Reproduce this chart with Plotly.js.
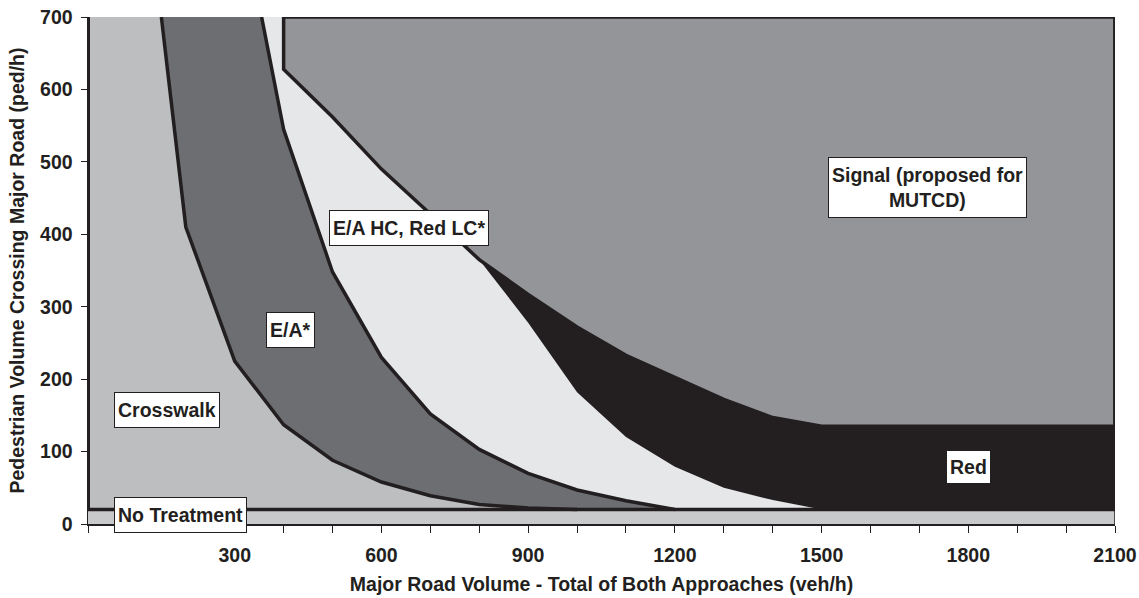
<!DOCTYPE html>
<html><head><meta charset="utf-8">
<script src="https://cdn.plot.ly/plotly-3.0.1.min.js"></script>
<style>html,body{margin:0;padding:0;background:#fff}#chart{width:1139px;height:598px}</style>
</head><body><div id="chart"></div>
<script>
// Axis extents and thresholds (veh/h on x, ped/h on y)
const xMin = 0, xMax = 2100, yMin = 0, yMax = 700;
const noTreatmentLimit = 20;

// Boundary: Crosswalk | E/A*
const crosswalkEdgeX = [150, 200, 300, 400, 500, 600, 700, 800, 900, 1000];
const crosswalkEdgeY = [700, 410, 225, 137, 88, 58, 39, 27, 22, 20];
// Boundary: E/A* | E/A HC, Red LC*
const eaEdgeX = [355, 400, 500, 600, 700, 800, 900, 1000, 1100, 1200];
const eaEdgeY = [700, 545, 348, 230, 152, 103, 70, 47, 32, 20];
// Boundary: E/A HC, Red LC* | Red
const redEdgeX = [800, 900, 1000, 1100, 1200, 1300, 1400, 1500];
const redEdgeY = [365, 278, 182, 120, 79, 50, 33, 20];
// Boundary of Signal (proposed for MUTCD)
const signalEdgeX = [400, 400, 500, 600, 700, 800, 900, 1000, 1100, 1200, 1300, 1400, 1500, 2100];
const signalEdgeY = [700, 628, 562, 490, 428, 365, 317, 272, 233, 202, 172, 147, 135, 135];

const regionNames = ['No Treatment', 'Crosswalk', 'E/A*', 'E/A HC, Red LC*', 'Red', 'Signal (proposed for<br>MUTCD)'];
const xTickVals = [300, 600, 900, 1200, 1500, 1800, 2100];
const xTickText = ['300', '600', '900', '1200', '1500', '1800', '2100'];
const yTickVals = [0, 100, 200, 300, 400, 500, 600, 700];
const yTickText = ['0', '100', '200', '300', '400', '500', '600', '700'];

const INK = '#231f20';
const FONT = 'Liberation Sans, Arial, Helvetica, sans-serif';
const rev = a => a.slice().reverse();

function poly(x, y, color) {
  return {type: 'scatter', mode: 'lines', x: x, y: y, fill: 'toself', fillcolor: color,
    line: {color: color, width: 0}, hoverinfo: 'skip', showlegend: false};
}
function line(x, y, w) {
  return {type: 'scatter', mode: 'lines', x: x, y: y, line: {color: INK, width: w},
    hoverinfo: 'skip', showlegend: false};
}
const k = signalEdgeX.lastIndexOf(redEdgeX[0]);

const traces = [
  // No Treatment band
  poly([xMin, xMax, xMax, xMin], [yMin, yMin, noTreatmentLimit, noTreatmentLimit], '#c8c9cb'),
  // Crosswalk
  poly([xMin, xMin].concat(crosswalkEdgeX), [noTreatmentLimit, yMax].concat(crosswalkEdgeY), '#bcbec0'),
  // E/A*
  poly(crosswalkEdgeX.concat(rev(eaEdgeX)), crosswalkEdgeY.concat(rev(eaEdgeY)), '#6d6e71'),
  // E/A HC, Red LC*
  poly(eaEdgeX.concat(rev(redEdgeX), rev(signalEdgeX.slice(0, k + 1))),
       eaEdgeY.concat(rev(redEdgeY), rev(signalEdgeY.slice(0, k + 1))), '#e6e7e8'),
  // Red
  poly(signalEdgeX.slice(k).concat([xMax], rev(redEdgeX)),
       signalEdgeY.slice(k).concat([noTreatmentLimit], rev(redEdgeY)), INK),
  // Signal
  poly(signalEdgeX.concat([xMax]), signalEdgeY.concat([yMax]), '#939598'),
  // outlines
  line([xMin, xMax], [noTreatmentLimit, noTreatmentLimit], 3.5),
  line([xMin, xMin], [noTreatmentLimit, yMax], 4),
  line(crosswalkEdgeX, crosswalkEdgeY, 3.5),
  line(eaEdgeX, eaEdgeY, 3.5),
  line(signalEdgeX.concat([xMax, signalEdgeX[0]]), signalEdgeY.concat([yMax, signalEdgeY[0]]), 3.5),
  line([xMax, xMax], [noTreatmentLimit, yMax], 3.5),
  line([xMax, xMax], [yMin, noTreatmentLimit], 1.5)
];

const labelFont = {family: FONT, size: 19.5, color: INK, weight: 'bold'};
function label(text, x, y, h) {
  return {text: text, x: x, y: y, xref: 'x', yref: 'y', showarrow: false,
    xanchor: 'center', yanchor: 'middle', bgcolor: '#ffffff', bordercolor: INK,
    borderwidth: 1, borderpad: 3, font: labelFont, align: 'center', valign: 'middle', height: h};
}
const annotations = [
  label(regionNames[0], 189, 12, 28),
  label(regionNames[1], 161, 157, 28),
  label(regionNames[2], 414, 268, 28),
  label(regionNames[3], 657, 409, 28),
  label(regionNames[4], 1801, 79, 26),
  label(regionNames[5], 1717, 465, 53)
];

const tickFont = {family: FONT, size: 19.5, color: INK, weight: 'bold'};
const layout = {
  width: 1139, height: 598,
  margin: {l: 88, r: 24, t: 17, b: 74, pad: 0},
  paper_bgcolor: '#ffffff', plot_bgcolor: '#ffffff',
  showlegend: false,
  xaxis: {
    range: [xMin, xMax], tickmode: 'array', tickvals: xTickVals, ticktext: xTickText,
    ticks: 'outside', ticklen: 7, tickwidth: 1, tickcolor: INK, ticklabelstandoff: 6,
    minor: {tickmode: 'linear', tick0: 0, dtick: 100, ticks: 'outside', ticklen: 7, tickwidth: 1, tickcolor: INK, showgrid: false},
    showline: true, linecolor: INK, linewidth: 1.5, showgrid: false, zeroline: false,
    tickfont: tickFont, fixedrange: true,
    title: {text: 'Major Road Volume - Total of Both Approaches (veh/h)', font: tickFont, standoff: 12}
  },
  yaxis: {
    range: [yMin, yMax], tickmode: 'array', tickvals: yTickVals, ticktext: yTickText,
    ticks: 'outside', ticklen: 6, tickwidth: 1, tickcolor: INK, ticklabelstandoff: 4,
    showline: true, linecolor: INK, linewidth: 1.5, showgrid: false, zeroline: false,
    tickfont: tickFont, fixedrange: true,
    title: {text: 'Pedestrian Volume Crossing Major Road (ped/h)', font: tickFont, standoff: 10}
  },
  annotations: annotations
};

Plotly.newPlot('chart', traces, layout, {displayModeBar: false, staticPlot: true});
</script>
</body></html>
